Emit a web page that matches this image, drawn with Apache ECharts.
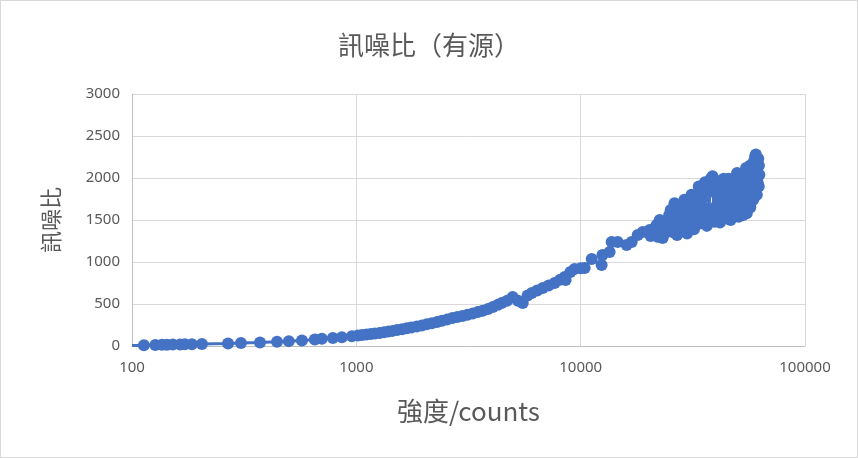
<!DOCTYPE html>
<html>
<head>
<meta charset="utf-8">
<script src="https://cdn.jsdelivr.net/npm/echarts@6/dist/echarts.min.js"></script>
<style>
  html, body { margin: 0; padding: 0; background: #fff; }
  #chart { width: 856px; height: 456px; border: 1px solid #d9d9d9; }
</style>
</head>
<body>
<div id="chart"></div>
<script>
// 強度 (counts)
const intensity = [
  100, 113, 127, 136, 143, 152, 164, 172, 185, 205, 268, 306, 372, 443, 500, 572, 653, 702, 786, 862, 955,
  1016, 1060, 1110, 1160, 1210, 1270, 1330, 1390, 1450, 1520, 1600, 1680, 1760, 1860, 1960, 2060, 2170, 2290,
  2410, 2540, 2680, 2820, 2970, 3130, 3300, 3480, 3660, 3860, 4060, 4280, 4448, 4700, 4978, 5250, 5520, 5800,
  6054, 6400, 6777, 7200, 7654, 8100, 8490, 8570, 9000, 9393, 10000, 10420,
  11200, 12400, 12500, 13460, 13740, 14630, 16030, 16880, 17950, 18900, 20300,
  20500, 21000, 21800, 22500, 23200, 24000, 24800, 25600, 26200, 26900, 27500, 28300, 29000, 29800, 30500, 31200,
  32000, 32800, 33600, 34300, 35000, 35800, 36500, 37300, 38000, 38700, 39500, 40300, 41000, 41800, 42600, 43400,
  44200, 45000, 45800, 46600, 47400, 48200, 49000, 49800, 50600, 51400, 52200, 53000, 53800, 54600, 55400, 56200,
  57000, 57800, 58500, 59200, 59800, 60400, 61000, 61500, 61900, 62300, 62600, 60000, 58000, 56000, 54000, 52000,
  48000, 44000, 40000, 36000, 32000, 28000, 24500,
  21500, 23000, 25000, 27000, 29000, 31000, 33000, 35000, 37000, 39000, 41000, 43000, 45000, 47000, 49000, 51000,
  53000, 55000, 57000, 59000, 61000, 60500, 59500, 58500, 57500, 56500, 55500, 54500, 53500, 52500, 51500, 50500,
  49500, 48500, 47500, 46500, 45500, 44500, 43500, 42500, 41500, 40500, 39500, 38500, 37500, 36500, 35500, 34500,
  33500, 32500, 31500, 30500, 29500, 28500, 27500, 26500, 25500, 24000, 22800,
  22000, 23500, 25200, 26500, 28000, 30000, 32000, 34000, 36000, 38000, 40000, 42000, 44000, 46000, 48000, 50000,
  52000, 54000, 56000, 58000, 60000, 61500, 62200, 61000, 59000, 57000, 55000, 53000, 50000, 47000, 44000, 41000,
  38000, 35000, 32000, 29000, 26000
];
// 訊噪比
const snr = [
  5, 8, 12, 14, 15, 17, 18, 20, 22, 25, 30, 35, 42, 50, 58, 65, 78, 85, 95, 105, 115,
  125, 130, 136, 142, 148, 156, 165, 172, 180, 190, 200, 210, 220, 232, 245, 258, 270, 285,
  300, 315, 332, 345, 358, 372, 388, 405, 420, 440, 465, 490, 512, 540, 583, 540, 512, 600,
  630, 660, 690, 720, 750, 790, 821, 785, 880, 916, 925, 928,
  1035, 964, 1083, 1119, 1238, 1238, 1202, 1238, 1321, 1357, 1380,
  1310, 1390, 1440, 1500, 1285, 1350, 1560, 1380, 1700, 1320, 1610, 1450, 1740, 1340, 1560, 1800,
  1390, 1680, 1900, 1460, 1750, 1950, 1430, 1620, 1990, 2020, 1480, 1810, 1960, 1470, 1700, 1990,
  1530, 1880, 1990, 1500, 1760, 1950, 1560, 2060, 1540, 1860, 2040, 1620, 1960, 2120, 1650, 1900,
  2150, 1720, 2000, 2200, 1820, 2280, 2100, 1950, 2230, 2150, 2040, 2260, 2090, 1780, 1700, 1650,
  1650, 1600, 1560, 1550, 1500, 1480, 1420,
  1350, 1420, 1470, 1530, 1600, 1650, 1720, 1800, 1850, 1900, 1880, 1850, 1800, 1870, 1930, 1960,
  2000, 2050, 2080, 2120, 2180, 2000, 1900, 1850, 1800, 1750, 1700, 1650, 1600, 1580, 1620, 1700,
  1680, 1620, 1580, 1640, 1700, 1660, 1580, 1540, 1600, 1680, 1640, 1560, 1520, 1600, 1650, 1560,
  1510, 1570, 1620, 1470, 1430, 1520, 1400, 1460, 1520, 1450, 1360,
  1300, 1380, 1620, 1550, 1650, 1700, 1780, 1820, 1900, 1850, 1920, 1930, 1900, 1920, 1880, 1800,
  1900, 1850, 2000, 1950, 2050, 2050, 1900, 1800, 1750, 1650, 1580, 1560, 1550, 1540, 1520, 1520,
  1500, 1480, 1450, 1420, 1350
];

const seriesData = intensity.map((x, i) => (i === 0 ? { value: [x, snr[i]], symbol: 'none' } : [x, snr[i]]));

const chart = echarts.init(document.getElementById('chart'));
chart.setOption({
  animation: false,
  title: {
    text: '訊噪比（有源）',
    left: 'center',
    top: 26,
    textStyle: { fontFamily: 'Noto Sans CJK TC', fontSize: 26, fontWeight: 'normal', color: '#595959' }
  },
  grid: { left: 131, right: 52, top: 93, bottom: 111 },
  xAxis: {
    type: 'log',
    logBase: 10,
    min: 100,
    max: 100000,
    name: '強度/counts',
    nameLocation: 'middle',
    nameGap: 52,
    nameTextStyle: { fontFamily: 'Noto Sans CJK TC', fontSize: 26, color: '#595959' },
    axisLine: { lineStyle: { color: '#bfbfbf', width: 1 } },
    axisTick: { show: false },
    axisLabel: { color: '#595959', fontSize: 15, fontFamily: 'Noto Sans', margin: 14, formatter: v => String(v) },
    splitLine: { show: true, lineStyle: { color: '#d9d9d9', width: 1 } },
    minorTick: { show: false }
  },
  yAxis: {
    type: 'value',
    min: 0,
    max: 3000,
    interval: 500,
    name: '訊噪比',
    nameLocation: 'middle',
    nameRotate: 90,
    nameGap: 70,
    nameTextStyle: { fontFamily: 'Noto Sans CJK TC', fontSize: 22, color: '#595959' },
    axisLine: { show: true, lineStyle: { color: '#bfbfbf', width: 1 } },
    axisTick: { show: false },
    axisLabel: { color: '#595959', fontSize: 15, fontFamily: 'Noto Sans', margin: 12, formatter: v => String(v) },
    splitLine: { lineStyle: { color: '#d9d9d9', width: 1 } }
  },
  series: [{
    type: 'line',
    data: seriesData,
    symbol: 'circle',
    symbolSize: 12,
    showAllSymbol: true,
    clip: true,
    itemStyle: { color: '#4472c4' },
    lineStyle: { color: '#4472c4', width: 3 }
  }]
});
</script>
</body>
</html>
